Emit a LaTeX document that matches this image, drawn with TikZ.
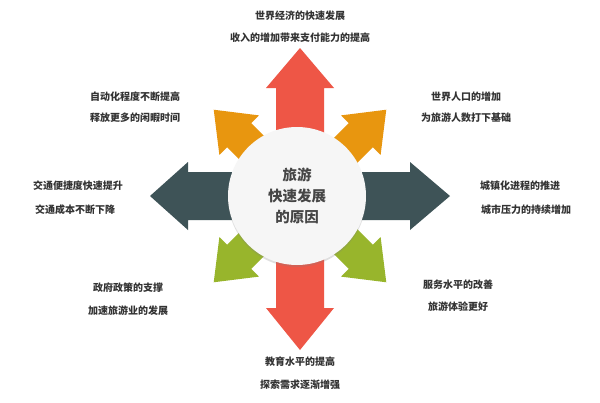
\documentclass[tikz,border=0pt]{standalone}
\usepackage{fontspec}
\newfontfamily\cjk{Noto Sans CJK SC}
\usetikzlibrary{shadows}
\definecolor{cred}{HTML}{EE5646}
\definecolor{corange}{HTML}{E8960F}
\definecolor{cgreen}{HTML}{98B52C}
\definecolor{cdark}{HTML}{3E5357}
\definecolor{ctext}{HTML}{333333}
\tikzset{
  lbl/.style={font=\cjk\bfseries\fontsize{10}{12}\selectfont, text=ctext, align=center},
  hub/.style={circle, minimum size=138pt, fill=gray!7, draw=none, drop shadow={shadow xshift=0pt, shadow yshift=-2pt, opacity=0.25}, font=\cjk\bfseries\fontsize{14.5}{21}\selectfont, text=gray!55!black, align=center}
}
\newcommand{\myarrow}[6]{% angle, color, L, headlen, H, w
  \fill[#2, rotate=#1] (0,-#6) -- ({#3-#4},-#6) -- ({#3-#4},-#5) -- (#3,0) -- ({#3-#4},#5) -- ({#3-#4},#6) -- (0,#6) -- cycle;}
\begin{document}
\begin{tikzpicture}[x=1pt,y=-1pt]
\useasboundingbox (0,0) rectangle (600,402);
\fill[white] (0,0) rectangle (600,402);
\begin{scope}[shift={(300,196)}, y=1pt]
  \myarrow{45}{corange}{122}{36}{28}{17}
  \myarrow{135}{corange}{122}{36}{28}{17}
  \myarrow{-45}{cgreen}{122}{36}{28}{17}
  \myarrow{-135}{cgreen}{122}{36}{28}{17}
  \myarrow{90}{cred}{148}{40}{34}{24}
  \myarrow{-90}{cred}{154}{42}{34}{24}
  \myarrow{0}{cdark}{150}{40}{34}{24}
  \myarrow{180}{cdark}{150}{38}{34}{24}
\end{scope}
\node[hub] (c) at (297,196) {旅游\\快速发展\\的原因};
\node[lbl] (t1) at (300,16) {世界经济的快速发展};
\node[lbl] (t2) at (300,38) {收入的增加带来支付能力的提高};
\node[lbl] (tl1) at (135,97) {自动化程度不断提高};
\node[lbl] (tl2) at (135,118) {释放更多的闲暇时间};
\node[lbl] (tr1) at (466,97) {世界人口的增加};
\node[lbl] (tr2) at (466,118) {为旅游人数打下基础};
\node[lbl] (l1) at (78,186) {交通便捷度快速提升};
\node[lbl] (l2) at (75,210) {交通成本不断下降};
\node[lbl] (r1) at (520,186) {城镇化进程的推进};
\node[lbl] (r2) at (526,210) {城市压力的持续增加};
\node[lbl] (bl1) at (128,288) {政府政策的支撑};
\node[lbl] (bl2) at (128,311) {加速旅游业的发展};
\node[lbl] (br1) at (458,285) {服务水平的改善};
\node[lbl] (br2) at (458,307) {旅游体验更好};
\node[lbl] (b1) at (300,362) {教育水平的提高};
\node[lbl] (b2) at (300,385) {探索需求逐渐增强};
\end{tikzpicture}
\end{document}
